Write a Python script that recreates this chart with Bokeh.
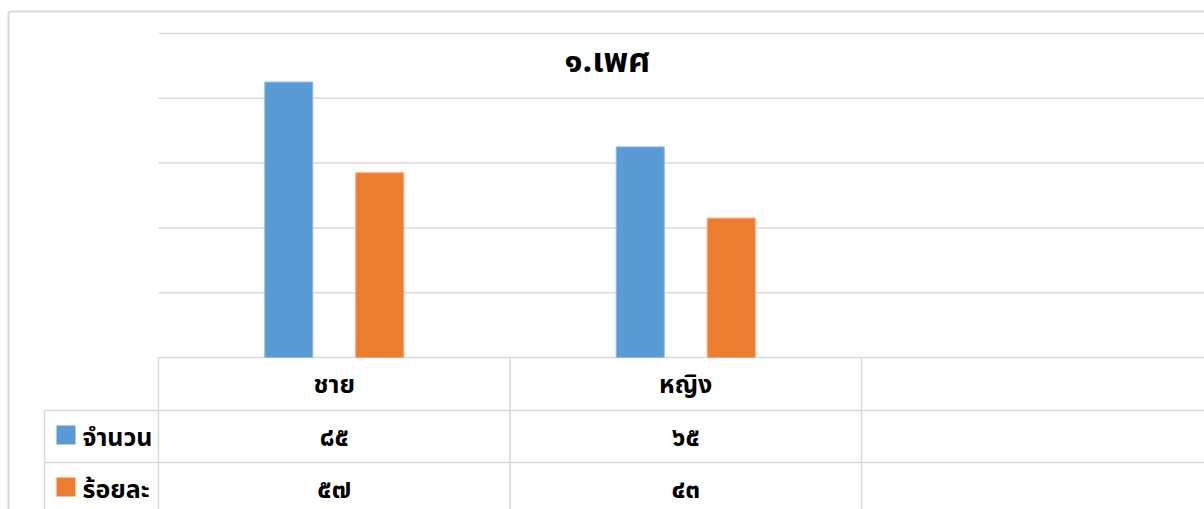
from bokeh.plotting import figure
from bokeh.models import Range1d
from bokeh.core.properties import value
from bokeh.embed import file_html
from bokeh.resources import INLINE

# ---- data ----
title_text = "๑.เพศ"
categories = ["ชาย", "หญิง", ""]
series_names = ["จำนวน", "ร้อยละ"]
count_values = [85, 65]
percent_values = [57, 43]
count_labels = ["๘๕", "๖๕", ""]
percent_labels = ["๕๗", "๔๓", ""]
y_ticks = [0, 20, 40, 60, 80, 100]

COLORS = ["#5B9BD5", "#ED7D31"]
GRID = "#D9D9D9"
FONT = value("Tahoma, 'Noto Sans Thai', 'Noto Sans', 'DejaVu Sans', sans-serif")

W, H = 1204, 509
PX0 = 158.0
CAT_W = 351.5
PY0 = 357.0
PY_TOP = 33.0
K = (PY0 - PY_TOP) / 100.0

def xd(px):
    return (px - PX0) / CAT_W

def yd(py):
    return (PY0 - py) / K

p = figure(width=W, height=H, output_backend="svg", toolbar_location=None,
           x_range=Range1d(xd(0), xd(W)), y_range=Range1d(yd(H), yd(0)),
           min_border=0, min_border_left=0, min_border_right=0,
           min_border_top=0, min_border_bottom=0)
p.axis.visible = False
p.grid.visible = False
p.outline_line_color = None
p.background_fill_color = "white"
p.border_fill_color = "white"

x_right = xd(W + 10)

# outer chart border
p.segment(x0=[xd(8)], y0=[yd(11)], x1=[x_right], y1=[yd(11)], line_color=GRID, line_width=2)
p.segment(x0=[xd(8)], y0=[yd(11)], x1=[xd(8)], y1=[yd(H + 10)], line_color=GRID, line_width=2)

# horizontal gridlines
p.segment(x0=[0] * len(y_ticks), y0=y_ticks, x1=[x_right] * len(y_ticks), y1=y_ticks,
          line_color=GRID, line_width=1.5)

# data table lines
row1 = yd(410)
row2 = yd(462)
p.segment(x0=[xd(44), xd(44)], y0=[row1, row2], x1=[x_right, x_right], y1=[row1, row2],
          line_color=GRID, line_width=1.5)
ncat = len(categories)
p.segment(x0=list(range(ncat)), y0=[0] * ncat, x1=list(range(ncat)), y1=[yd(H + 10)] * ncat,
          line_color=GRID, line_width=1.5)
p.segment(x0=[xd(44)], y0=[row1], x1=[xd(44)], y1=[yd(H + 10)], line_color=GRID, line_width=1.5)

# bars
bw = 48.0 / CAT_W
off = 45.5 / CAT_W
n = len(count_values)
p.vbar(x=[i + 0.5 - off for i in range(n)], top=count_values, bottom=0, width=bw,
       fill_color=COLORS[0], line_color="#8DB9E3", line_width=1)
p.vbar(x=[i + 0.5 + off for i in range(n)], top=percent_values, bottom=0, width=bw,
       fill_color=COLORS[1], line_color="#F3A77A", line_width=1)

# title
p.text(x=[xd(607)], y=[yd(61)], text=[title_text], text_font=FONT, text_font_size="34px",
       text_font_style="bold", text_align="center", text_baseline="middle", text_color="#000000")

# table texts
cx = [i + 0.5 for i in range(ncat)]
p.text(x=cx, y=[yd(384)] * ncat, text=categories, text_font=FONT, text_font_size="25px",
       text_font_style="bold", text_align="center", text_baseline="middle", text_color="#000000")
p.text(x=cx, y=[yd(437)] * ncat, text=count_labels, text_font=FONT, text_font_size="26px",
       text_font_style="bold", text_align="center", text_baseline="middle", text_color="#000000")
p.text(x=cx, y=[yd(489)] * ncat, text=percent_labels, text_font=FONT, text_font_size="26px",
       text_font_style="bold", text_align="center", text_baseline="middle", text_color="#000000")

# legend keys in table
p.rect(x=[xd(65.5), xd(65.5)], y=[yd(434.5), yd(486.5)], width=19 / CAT_W, height=19 / K,
       fill_color=COLORS, line_color=None)
p.text(x=[xd(82), xd(82)], y=[yd(437), yd(489)], text=series_names, text_font=FONT,
       text_font_size="25px", text_font_style="bold", text_align="left", text_baseline="middle",
       text_color="#000000")

open("out.html", "w").write(file_html(p, INLINE))
